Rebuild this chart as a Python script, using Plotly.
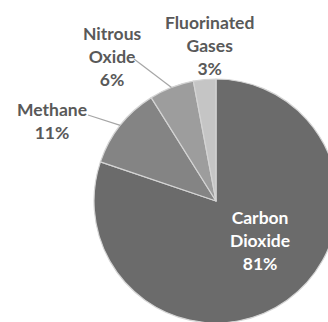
import math
import plotly.graph_objects as go

# Share of total greenhouse gas emissions, by gas (percent)
gases = ["Carbon Dioxide", "Methane", "Nitrous Oxide", "Fluorinated Gases"]
label_lines = ["Carbon<br>Dioxide", "Methane", "Nitrous<br>Oxide", "Fluorinated<br>Gases"]
shares = [81, 11, 6, 3]

slice_colors = ["#6b6b6b", "#848484", "#9d9d9d", "#c5c5c5"]
label_colors = ["#ffffff", "#595959", "#595959", "#595959"]

# Canvas and pie geometry in pixels (canvas is larger than the view, so the pie runs off the edge)
W, H = 338, 323
CX, CY, R = 216, 201, 122

# Label centres and leader-line starts (pixels)
label_pos = [(260, 241), (52, 121), (112, 56), (210, 45)]
leader_start = [None, (88, 115), (134, 59), None]


def px_to_paper(x, y):
    return x / W, 1 - y / H


fig = go.Figure(
    go.Pie(
        labels=gases,
        values=shares,
        sort=False,
        direction="clockwise",
        rotation=0,
        marker=dict(colors=slice_colors, line=dict(color="#d4d4d4", width=1.2)),
        textinfo="none",
        hoverinfo="label+value",
        domain=dict(x=[(CX - R) / W, (CX + R) / W], y=[(H - CY - R) / H, (H - CY + R) / H]),
        showlegend=False,
    )
)

total = sum(shares)
cum = 0.0
for name, txt, val, col, pos, start in zip(gases, label_lines, shares, label_colors, label_pos, leader_start):
    mid = (cum + val / 2) / total * 2 * math.pi  # clockwise from 12 o'clock
    cum += val
    ax_, ay_ = px_to_paper(*pos)
    fig.add_annotation(
        x=ax_, y=ay_, xref="paper", yref="paper",
        xanchor="center", yanchor="middle",
        text=f"{txt}<br>{val}%",
        showarrow=False,
        font=dict(family="Lato", size=17.5, color=col, weight="bold"),
        align="center",
    )
    if start is not None:
        ex = CX + R * math.sin(mid)
        ey = CY - R * math.cos(mid)
        x0, y0 = px_to_paper(*start)
        x1, y1 = px_to_paper(ex, ey)
        fig.add_shape(
            type="line", xref="paper", yref="paper",
            x0=x0, y0=y0, x1=x1, y1=y1,
            line=dict(color="#a6a6a6", width=1.2),
        )

fig.update_layout(
    width=W,
    height=H,
    margin=dict(l=0, r=0, t=0, b=0),
    paper_bgcolor="white",
    plot_bgcolor="white",
)

fig.write_html(
    "out.html",
    config={"displayModeBar": False},
    post_script="document.documentElement.style.overflow='hidden';document.body.style.overflow='hidden';document.body.style.margin='0';",
)
